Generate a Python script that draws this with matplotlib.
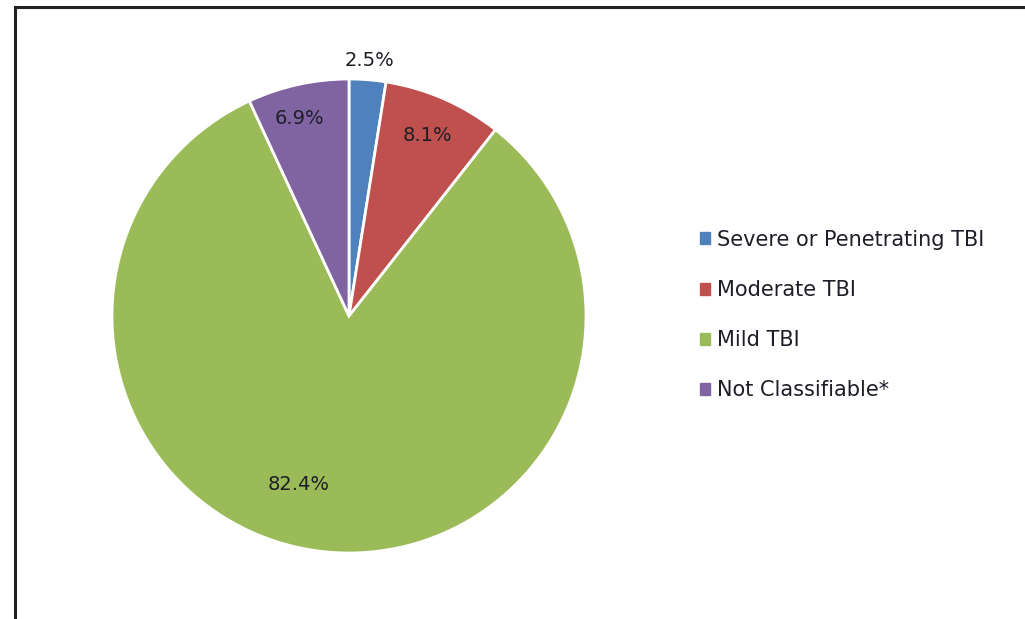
import matplotlib.pyplot as plt
import matplotlib.patches as mpatches
import numpy as np

categories = ["Severe or Penetrating TBI", "Moderate TBI", "Mild TBI", "Not Classifiable*"]
shares = [2.5, 8.1, 82.4, 6.9]
colors = ["#4F81BD", "#C0504D", "#9BBB59", "#8064A2"]

# label placement per slice (fraction of radius, angle nudge in degrees)
label_dist = [1.08, 0.83, 0.74, 0.86]
label_nudge = [0, 0, -10, 1.5]

plt.rcParams['font.family'] = ['DejaVu Sans']

fig = plt.figure(figsize=(10.25, 6.19), dpi=100)

# pie axes: 480x480 px box centred on (349, 316) px
W, H = 1025, 619
cx, cy, half = 349, 316, 240
ax = fig.add_axes([(cx - half) / W, (H - cy - half) / H, 2 * half / W, 2 * half / H])
R = 237 / half

wedges, texts, autotexts = ax.pie(
    shares, colors=colors, startangle=90, counterclock=False, radius=R,
    autopct=lambda p: f"{p:.1f}%", pctdistance=0.8,
    wedgeprops=dict(edgecolor="white", linewidth=2),
    textprops=dict(fontsize=14, color="#1e1e28"))

for i, (w, t) in enumerate(zip(wedges, autotexts)):
    ang = np.deg2rad((w.theta1 + w.theta2) / 2 + label_nudge[i])
    d = label_dist[i] * R
    t.set_position((np.cos(ang) * d, np.sin(ang) * d))
    t.set_text(f"{shares[i]:.1f}%")

ax.set_xlim(-1, 1)
ax.set_ylim(-1, 1)
ax.set_aspect("equal")
ax.axis("off")

handles = [mpatches.Patch(color=c) for c in colors]
leg = fig.legend(handles, categories, loc="upper left",
                 bbox_to_anchor=(681 / W, 1 - 211 / H), frameon=False,
                 fontsize=15, handlelength=0.5, handleheight=0.5,
                 handletextpad=0.35, labelspacing=1.45)
for txt in leg.get_texts():
    txt.set_color("#1e1e28")

# outer frame, cut off at right and bottom like the screenshot
frame = mpatches.Rectangle((15 / W, -0.05), 1.2, 1 - 7 / H + 0.05,
                           transform=fig.transFigure, fill=False,
                           edgecolor="#222222", linewidth=2.2)
fig.patches.append(frame)

fig.savefig("out.png", dpi=100)
